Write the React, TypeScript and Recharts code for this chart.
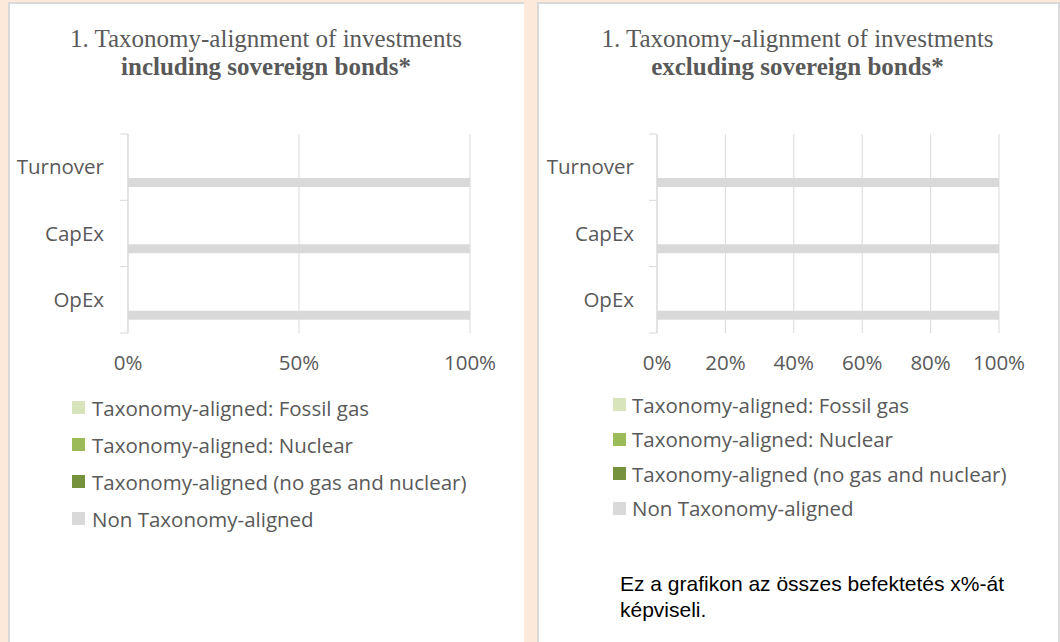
import React from 'react';
import { BarChart, Bar, XAxis, YAxis, CartesianGrid, Legend } from 'recharts';

// ---- data ----
const categories = ['Turnover', 'CapEx', 'OpEx'];

const inclFossilGas = [0, 0, 0];
const inclNuclear = [0, 0, 0];
const inclAligned = [0, 0, 0];
const inclNonAligned = [100, 100, 100];

const exclFossilGas = [0, 0, 0];
const exclNuclear = [0, 0, 0];
const exclAligned = [0, 0, 0];
const exclNonAligned = [100, 100, 100];

const inclTicks = [0, 50, 100];
const exclTicks = [0, 20, 40, 60, 80, 100];

const seriesKeys = ['fossil', 'nuclear', 'aligned', 'non'];
const seriesNames = [
  'Taxonomy-aligned: Fossil gas',
  'Taxonomy-aligned: Nuclear',
  'Taxonomy-aligned (no gas and nuclear)',
  'Non Taxonomy-aligned',
];
const seriesColors = ['#D8E4BC', '#9BBB59', '#76923C', '#D9D9D9'];

const titleLine1 = '1. Taxonomy-alignment of investments';
const inclTitle2 = 'including sovereign bonds*';
const exclTitle2 = 'excluding sovereign bonds*';
const noteText = 'Ez a grafikon az összes befektetés x%-át képviseli.';

const buildRows = (a: number[], b: number[], c: number[], d: number[]) =>
  categories.map((name, i) => ({ name, fossil: a[i], nuclear: b[i], aligned: c[i], non: d[i] }));

const inclData = buildRows(inclFossilGas, inclNuclear, inclAligned, inclNonAligned);
const exclData = buildRows(exclFossilGas, exclNuclear, exclAligned, exclNonAligned);

const TEXT = '#595959';
const GRID = '#D9D9D9';
const SANS = '"Open Sans", "Noto Sans", sans-serif';
const SERIF = '"Liberation Serif", "DejaVu Serif", serif';
const FS = 20.5;

const makeYTick = (tickMargin: number, count: number) => (props: any) => {
  const { x, y, payload } = props;
  const idx = props.index ?? payload?.index ?? 0;
  const half = payload?.offset ?? 33;
  const axisX = x + tickMargin;
  return (
    <g>
      <text x={x} y={y} dy="0.35em" textAnchor="end" fill={TEXT} fontSize={FS} fontFamily={SANS}>
        {payload.value}
      </text>
      <line x1={axisX - 8} x2={axisX} y1={y - half} y2={y - half} stroke={GRID} strokeWidth={1} />
      {idx === count - 1 && (
        <line x1={axisX - 8} x2={axisX} y1={y + half} y2={y + half} stroke={GRID} strokeWidth={1} />
      )}
    </g>
  );
};

const makeLegend = (rowH: number, gap: number) => (props: any) => {
  const items = [...(props.payload || [])].sort(
    (p: any, q: any) => seriesNames.indexOf(p.value) - seriesNames.indexOf(q.value)
  );
  return (
    <div style={{ fontFamily: SANS, fontSize: FS, color: TEXT }}>
      {items.map((it: any) => (
        <div key={it.value} style={{ height: rowH, display: 'flex', alignItems: 'center', whiteSpace: 'nowrap' }}>
          <span style={{ display: 'inline-block', width: 13, height: 13, background: it.color, marginRight: gap }} />
          <span>{it.value}</span>
        </div>
      ))}
    </div>
  );
};

type PanelChartProps = {
  data: any[];
  ticks: number[];
  width: number;
  marginLeft: number;
  marginRight: number;
  tickMargin: number;
  legendLeft: number;
  legendTop: number;
  legendRow: number;
  legendGap: number;
};

const PanelChart = ({ data, ticks, width, marginLeft, marginRight, tickMargin, legendLeft, legendTop, legendRow, legendGap }: PanelChartProps) => (
  <BarChart
    width={width}
    height={642}
    data={data}
    layout="vertical"
    barGap={1}
    margin={{ top: 134, right: marginRight, bottom: 279, left: marginLeft }}
  >
    <CartesianGrid horizontal={false} stroke={GRID} />
    <XAxis
      type="number"
      domain={[0, 100]}
      ticks={ticks}
      tickFormatter={(v: number) => `${v}%`}
      axisLine={false}
      tickLine={false}
      tickSize={0}
      tickMargin={22}
      height={30}
      interval={0}
      tick={{ fill: TEXT, fontSize: FS, fontFamily: SANS }}
    />
    <YAxis
      type="category"
      dataKey="name"
      width={100}
      axisLine={{ stroke: GRID }}
      tickLine={false}
      tickSize={0}
      tickMargin={tickMargin}
      interval={0}
      tick={makeYTick(tickMargin, categories.length)}
    />
    <Legend
      layout="vertical"
      align="center"
      verticalAlign="middle"
      wrapperStyle={{ left: legendLeft, top: legendTop, width: 440, height: legendRow * 4 }}
      content={makeLegend(legendRow, legendGap)}
    />
    {seriesKeys.map((k, i) => (
      <Bar key={k} dataKey={k} name={seriesNames[i]} fill={seriesColors[i]} barSize={9} isAnimationActive={false} />
    ))}
  </BarChart>
);

export default function App() {
  return (
    <div style={{ position: 'relative', width: 1060, height: 642, background: '#FDE9D9', overflow: 'hidden' }}>
      <style>{'body{margin:0}'}</style>
      {/* panels */}
      <div
        style={{
          position: 'absolute', left: 8, top: 2, width: 516, height: 700, background: '#fff',
          borderLeft: `2px solid ${GRID}`, borderTop: `2px solid ${GRID}`, boxSizing: 'border-box',
        }}
      />
      <div
        style={{
          position: 'absolute', left: 537, top: 2, width: 523, height: 700, background: '#fff',
          borderLeft: `2px solid ${GRID}`, borderTop: `2px solid ${GRID}`, borderRight: `2px solid ${GRID}`,
          boxSizing: 'border-box',
        }}
      />
      {/* titles */}
      <div style={{ position: 'absolute', left: 8, top: 25, width: 516, textAlign: 'center', fontFamily: SERIF, fontSize: 25, lineHeight: '28px', color: TEXT }}>
        <div>{titleLine1}</div>
        <div style={{ fontWeight: 'bold' }}>{inclTitle2}</div>
      </div>
      <div style={{ position: 'absolute', left: 537, top: 25, width: 521, textAlign: 'center', fontFamily: SERIF, fontSize: 25, lineHeight: '28px', color: TEXT }}>
        <div>{titleLine1}</div>
        <div style={{ fontWeight: 'bold' }}>{exclTitle2}</div>
      </div>
      {/* charts */}
      <div style={{ position: 'absolute', left: 0, top: 0 }}>
        <PanelChart
          data={inclData}
          ticks={inclTicks}
          width={524}
          marginLeft={28}
          marginRight={54}
          tickMargin={24}
          legendLeft={72}
          legendTop={389}
          legendRow={37}
          legendGap={7}
        />
      </div>
      <div style={{ position: 'absolute', left: 537, top: 0 }}>
        <PanelChart
          data={exclData}
          ticks={exclTicks}
          width={523}
          marginLeft={20}
          marginRight={61}
          tickMargin={23}
          legendLeft={76}
          legendTop={387.5}
          legendRow={34.5}
          legendGap={6}
        />
      </div>
      {/* note */}
      <div
        style={{
          position: 'absolute', left: 620, top: 571, width: 410, height: 50, overflow: 'hidden',
          fontFamily: '"Liberation Sans", Arial, sans-serif', fontSize: 21, lineHeight: '26px', color: '#000',
        }}
      >
        {noteText}
      </div>
    </div>
  );
}
